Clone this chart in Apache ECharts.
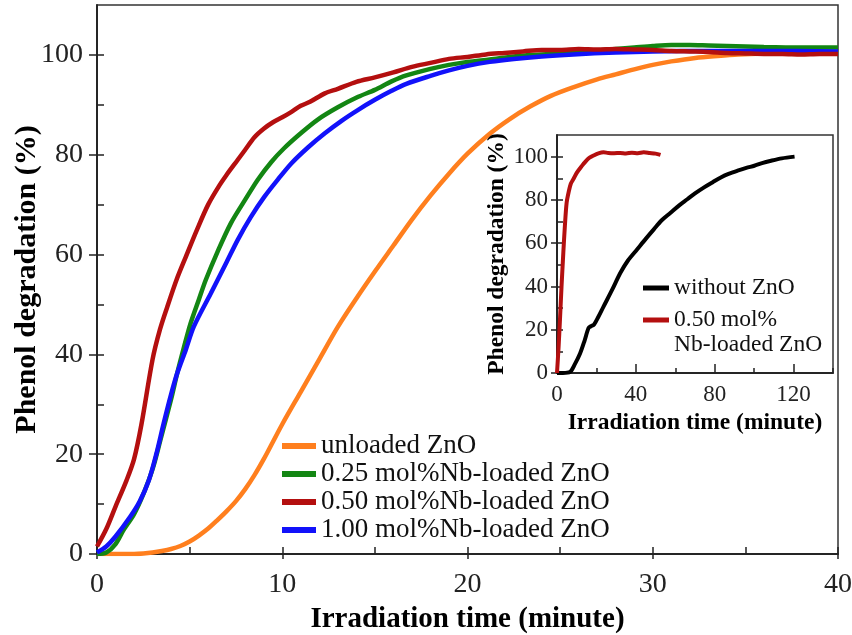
<!DOCTYPE html>
<html>
<head>
<meta charset="utf-8">
<script src="https://cdn.jsdelivr.net/npm/echarts@6/dist/echarts.min.js"></script>
<style>
  html, body { margin: 0; padding: 0; background: #fff; }
  #chart { width: 852px; height: 635px; }
</style>
</head>
<body>
<div id="chart"></div>
<script>
// Phenol degradation (%) versus irradiation time (minute), [time, value] pairs
const unloadedZnO = [
  [0,0],[1,0],[2,0],[2.5,0.1],[3,0.3],[3.5,0.6],[4,1],[4.5,1.6],[5,2.5],[5.5,3.7],[6,5.1],
  [6.5,6.8],[7,8.6],[7.5,10.6],[8,13],[8.5,15.8],[9,19],[9.5,22.5],[10,26],[11,32.5],[12,39],
  [13,45.5],[14,51.2],[15,56.6],[16,61.8],[17,67],[18,71.8],[19,76.2],[20,80.2],[21.2,84.2],
  [22.3,87.2],[23.4,89.7],[24.5,91.8],[25.7,93.5],[27,95.1],[28,96.1],[29,97.1],[30,98],
  [31,98.7],[32.3,99.4],[33.5,99.8],[34.6,100.1],[36,100.3],[38,100.4],[40,100.4]
];
const nb025 = [
  [0,0],[0.5,0.3],[1,2],[1.43,4.8],[2,8],[2.5,12],[3,17],[3.42,22.8],[4,31],[4.33,36.2],
  [4.7,41.5],[5.05,46.2],[5.5,51],[5.87,54.9],[6.5,60.5],[7.23,66.3],[8,71],[8.68,75],
  [9.4,78.5],[10.1,81.3],[11,84.3],[11.9,87],[13,89.5],[14.1,91.6],[15,93],[15.9,94.7],
  [16.7,95.9],[18,97.2],[19,98],[20,98.6],[21.2,99.1],[22.5,99.7],[23.5,100],[25,100.3],
  [26,100.6],[27,100.9],[28,101.2],[29,101.5],[30,101.8],[31,102],[32,102],[33,101.9],
  [34,101.8],[36,101.6],[38,101.5],[40,101.5]
];
const nb050 = [
  [0,1.5],[0.5,5],[1,9.5],[1.6,14.8],[2,19],[2.4,26],[3,39],[3.4,45],[3.8,49.6],[4.3,55],
  [4.8,59.6],[5.4,65],[6,70],[6.6,73.8],[7,76],[7.6,79],[8,81],[8.5,83.5],[9,85.2],[9.5,86.5],
  [10,87.5],[10.5,88.6],[11,89.8],[11.5,90.6],[12.3,92.3],[13,93.2],[14,94.6],[15,95.5],
  [16,96.5],[17,97.6],[18,98.4],[19,99.2],[20,99.6],[21,100.1],[22,100.4],[23,100.7],
  [24,101],[25,101],[26,101.2],[27,101.1],[28,101.2],[29,101.1],[30,101],[31,100.8],
  [32,100.7],[33,100.6],[34,100.4],[35,100.3],[36,100.2],[37,100.2],[38,100.1],[39,100.2],[40,100.2]
];
const nb100 = [
  [0,0.3],[0.5,1.5],[1,3.5],[1.8,7.5],[2.3,10.5],[2.8,14.8],[3.2,20],[3.6,26.2],[4,32],
  [4.33,36.2],[4.8,41],[5.23,45.6],[6.14,52.2],[7,58.5],[7.59,62.9],[8.3,67.5],[9.04,71.6],
  [9.8,75.2],[10.5,78.3],[11.4,81.5],[12.3,84.3],[13.2,86.8],[14.1,89],[15,91],[15.9,92.8],
  [16.7,94.2],[18,95.8],[19,96.9],[20,97.8],[21.2,98.6],[22.5,99.2],[24,99.7],[25.7,100.1],
  [28,100.5],[30,100.7],[33,100.8],[36,100.8],[40,100.7]
];

// Inset: photolysis without catalyst versus 0.50 mol% Nb-loaded ZnO
const withoutZnO = [
  [0,0],[3,0],[6.6,0.5],[9,4],[11.7,9],[14,15],[16,20.8],[17.2,21.6],[18.8,22.4],[21,26],
  [23.6,30.7],[28,38.5],[32.1,46.2],[36,52],[40.6,57.1],[45,62],[49.1,66.4],[53,70.5],
  [57.6,74.1],[62,77.5],[66.1,80.3],[70,83],[74.6,85.8],[79,88.2],[83.1,90.4],[87,92],
  [91.6,93.5],[96,94.8],[100.1,95.8],[104,97],[108.6,98.1],[114,99.2],[120.5,100]
];
const nb050Inset = [
  [0,0],[0.8,12],[1.5,24.5],[2.3,40],[3.2,55.5],[4,68],[4.9,78.8],[6,84],[7,87.5],[8.3,89.6],
  [10,92.5],[12,95],[13.4,96.6],[15,98.3],[16.5,99.5],[18.5,100.5],[21,101.5],[23.6,102],
  [26,101.7],[29,101.6],[32,101.7],[35,101.5],[38,101.8],[41,101.6],[44,102],[47,101.7],
  [50,101.4],[52.5,100.8]
];

// Tick positions
const mainXLabels = [0, 10, 20, 30, 40];
const mainXMinor = [0, 5, 10, 15, 20, 25, 30, 35, 40];
const mainYLabels = [0, 20, 40, 60, 80, 100];
const mainYMinor = [0, 10, 20, 30, 40, 50, 60, 70, 80, 90, 100];
const insetXLabels = [0, 40, 80, 120];
const insetXMinor = [0, 20, 40, 60, 80, 100, 120, 140];
const insetYLabels = [0, 20, 40, 60, 80, 100];
const insetYMinor = [0, 10, 20, 30, 40, 50, 60, 70, 80, 90, 100];

const seriesNames = [
  'unloaded ZnO',
  '0.25 mol%Nb-loaded ZnO',
  '0.50 mol%Nb-loaded ZnO',
  '1.00 mol%Nb-loaded ZnO'
];
const insetNames = ['without ZnO', '0.50 mol% Nb-loaded ZnO'];
const colors = {
  orange: '#ff7f1e',
  green: '#138613',
  red: '#b40f0f',
  blue: '#1212fa',
  black: '#000000'
};

const FONT = 'Liberation Serif, Times New Roman, serif';
const AX = '#222';

function axisBase(extra) {
  return Object.assign({
    type: 'value',
    splitLine: { show: false },
    nameMoveOverlap: false,
    axisLine: { show: true, onZero: false, lineStyle: { color: AX, width: 1.5 } }
  }, extra);
}

function curve(name, data, color, axisIndex, width, z) {
  return {
    name: name, type: 'line', xAxisIndex: axisIndex, yAxisIndex: axisIndex, data: data,
    showSymbol: false, smooth: 0.3, color: color,
    lineStyle: { width: width }, z: z
  };
}

const chart = echarts.init(document.getElementById('chart'), null, { renderer: 'canvas' });

chart.setOption({
  animation: false,
  backgroundColor: '#fff',
  grid: [
    { left: 97, right: 14, top: 5, bottom: 81, outerBoundsMode: 'none', show: true, borderColor: '#333', borderWidth: 1.5, backgroundColor: 'transparent' },
    { left: 557, right: 19, top: 135, bottom: 262, outerBoundsMode: 'none', show: true, borderColor: '#333', borderWidth: 1.5, backgroundColor: '#fff', z: 5 }
  ],
  xAxis: [
    axisBase({
      gridIndex: 0, min: 0, max: 40, position: 'bottom',
      name: 'Irradiation time (minute)', nameLocation: 'middle', nameGap: 51,
      nameTextStyle: { fontFamily: FONT, fontSize: 29, fontWeight: 'bold', color: '#000' },
      axisTick: { show: true, inside: true, length: 7, customValues: mainXMinor, lineStyle: { color: AX, width: 1.5 } },
      axisLabel: { customValues: mainXLabels, fontFamily: FONT, fontSize: 28, color: AX, margin: 17 }
    }),
    axisBase({
      gridIndex: 0, min: 0, max: 40, position: 'bottom',
      axisTick: { show: true, inside: false, length: 5, customValues: mainXLabels, lineStyle: { color: AX, width: 1.5 } },
      axisLabel: { show: false }
    }),
    axisBase({
      gridIndex: 1, min: 0, max: 140, position: 'bottom', z: 6,
      name: 'Irradiation time (minute)', nameLocation: 'middle', nameGap: 38,
      nameTextStyle: { fontFamily: FONT, fontSize: 23.5, fontWeight: 'bold', color: '#000' },
      axisTick: { show: true, inside: true, length: 5, customValues: insetXMinor, lineStyle: { color: AX, width: 1.5 } },
      axisLabel: { customValues: insetXLabels, fontFamily: FONT, fontSize: 23, color: AX, margin: 10 }
    }),
    axisBase({
      gridIndex: 1, min: 0, max: 140, position: 'bottom', z: 6,
      axisTick: { show: true, inside: true, length: 9, customValues: insetXLabels, lineStyle: { color: AX, width: 1.5 } },
      axisLabel: { show: false }
    })
  ],
  yAxis: [
    axisBase({
      gridIndex: 0, min: 0, max: 110, position: 'left',
      name: 'Phenol degradation (%)', nameLocation: 'middle', nameGap: 55,
      nameTextStyle: { fontFamily: FONT, fontSize: 30, fontWeight: 'bold', color: '#000' },
      axisTick: { show: true, inside: true, length: 7, customValues: mainYMinor, lineStyle: { color: AX, width: 1.5 } },
      axisLabel: { customValues: mainYLabels, fontFamily: FONT, fontSize: 28, color: AX, margin: 14 }
    }),
    axisBase({
      gridIndex: 0, min: 0, max: 110, position: 'left',
      axisTick: { show: true, inside: false, length: 8, customValues: mainYLabels, lineStyle: { color: AX, width: 1.5 } },
      axisLabel: { show: false }
    }),
    axisBase({
      gridIndex: 1, min: 0, max: 110, position: 'left', z: 6,
      name: 'Phenol degradation (%)', nameLocation: 'middle', nameGap: 48,
      nameTextStyle: { fontFamily: FONT, fontSize: 23.5, fontWeight: 'bold', color: '#000' },
      axisTick: { show: true, inside: true, length: 6, customValues: insetYMinor, lineStyle: { color: AX, width: 1.5 } },
      axisLabel: { customValues: insetYLabels, fontFamily: FONT, fontSize: 23, color: AX, margin: 9 }
    }),
    axisBase({
      gridIndex: 1, min: 0, max: 110, position: 'left', z: 6,
      axisTick: { show: true, inside: false, length: 6, customValues: insetYLabels, lineStyle: { color: AX, width: 1.5 } },
      axisLabel: { show: false }
    })
  ],
  legend: [
    {
      data: seriesNames,
      orient: 'vertical', left: 282, top: 432, padding: 0, itemGap: 0,
      itemWidth: 34, itemHeight: 6, icon: 'rect',
      textStyle: { fontFamily: FONT, fontSize: 27, color: '#111', lineHeight: 28 }
    },
    {
      data: insetNames,
      orient: 'vertical', left: 643, top: 275.5, padding: 0, itemGap: -18, z: 7,
      itemWidth: 26, itemHeight: 5, icon: 'rect',
      formatter: function (name) {
        return name === insetNames[1] ? '\n0.50 mol%\nNb-loaded ZnO' : name;
      },
      textStyle: { fontFamily: FONT, fontSize: 23.5, color: '#111', lineHeight: 25 }
    }
  ],
  series: [
    curve(seriesNames[0], unloadedZnO, colors.orange, 0, 4.5, 2),
    curve(seriesNames[1], nb025, colors.green, 0, 4.5, 2),
    curve(seriesNames[3], nb100, colors.blue, 0, 4.5, 2),
    curve(seriesNames[2], nb050, colors.red, 0, 4.5, 2),
    curve(insetNames[0], withoutZnO, colors.black, 2, 4, 8),
    curve(insetNames[1], nb050Inset, colors.red, 2, 4, 8)
  ]
});
</script>
</body>
</html>
